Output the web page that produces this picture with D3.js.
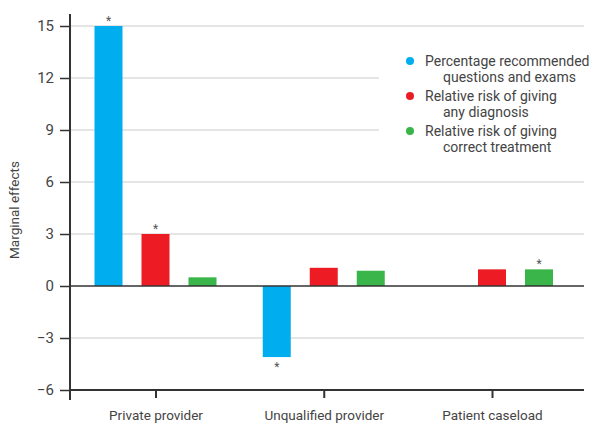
<!DOCTYPE html>
<html><head><meta charset="utf-8">
<script src="https://cdn.jsdelivr.net/npm/d3@7"></script>
<style>
body{margin:0;background:#fff;}
text{font-family:Roboto, "Open Sans", sans-serif;}
</style></head>
<body><svg id="c" width="601" height="436"></svg>
<script>
const categories = ["Private provider", "Unqualified provider", "Patient caseload"];
const seriesNames = ["Percentage recommended questions and exams", "Relative risk of giving any diagnosis", "Relative risk of giving correct treatment"];
const legendLines = [["Percentage recommended", "questions and exams"], ["Relative risk of giving", "any diagnosis"], ["Relative risk of giving", "correct treatment"]];
const seriesColors = ["#00aeef", "#ed1c24", "#39b54a"];
const pctRecommended = [15.0, -4.1, 0];
const rrDiagnosis = [3.0, 1.05, 0.96];
const rrTreatment = [0.5, 0.88, 0.96];
const significant = [[true, true, false], [true, false, false], [false, false, true]]; // per series, per category
const yTicks = [-6, -3, 0, 3, 6, 9, 12, 15];
const yLabel = "Marginal effects";

const svg = d3.select("#c");
const mLeft = 70, mRight = 584, mTop = 26, mBottom = 390;
const y = d3.scaleLinear().domain([-6, 15]).range([mBottom, mTop]);
const x0 = d3.scalePoint().domain(categories).range([155.5, 492]);
const x1 = d3.scaleBand().domain(d3.range(3)).range([-61, 61]).paddingInner(0.404).paddingOuter(0);
const values = [pctRecommended, rrDiagnosis, rrTreatment];
const legendLeft = 379;
const txt = "#444";

// grid
svg.append("g").selectAll("line").data(yTicks.filter(d => d !== 0 && d !== -6)).join("line")
  .attr("x1", mLeft).attr("x2", d => (d === 12 || d === 9) ? legendLeft : mRight)
  .attr("y1", d => y(d)).attr("y2", d => y(d))
  .attr("stroke", "#cccccc").attr("stroke-width", 1.2);

// bars
const data = [];
categories.forEach((c, ci) => values.forEach((arr, si) => data.push({c, ci, si, v: arr[ci]})));
svg.append("g").selectAll("rect").data(data.filter(d => d.v !== 0)).join("rect")
  .attr("x", d => x0(d.c) + x1(d.si))
  .attr("width", x1.bandwidth())
  .attr("y", d => y(Math.max(0, d.v)))
  .attr("height", d => Math.abs(y(d.v) - y(0)))
  .attr("fill", d => seriesColors[d.si]);

// asterisks
svg.append("g").selectAll("text").data(data.filter(d => significant[d.si][d.ci])).join("text")
  .attr("x", d => x0(d.c) + x1(d.si) + x1.bandwidth() / 2)
  .attr("y", d => d.v >= 0 ? y(d.v) - 1 : y(d.v) + 14)
  .attr("text-anchor", "middle").attr("font-size", 12).attr("fill", "#555")
  .text("*");

// zero line
svg.append("line").attr("x1", mLeft).attr("x2", mRight).attr("y1", y(0)).attr("y2", y(0))
  .attr("stroke", "#333").attr("stroke-width", 1.3);

// y axis
const yAxis = svg.append("g").attr("transform", `translate(${mLeft},0)`)
  .call(d3.axisLeft(y).tickValues(yTicks).tickSize(10).tickPadding(6).tickFormat(d => d < 0 ? "\u2212" + Math.abs(d) : d));
yAxis.select(".domain").remove();
yAxis.selectAll("line").attr("stroke", "#333").attr("stroke-width", 1.5);
yAxis.selectAll("text").attr("font-size", 15).attr("fill", txt).attr("font-family", "Roboto, sans-serif");
svg.append("line").attr("x1", mLeft).attr("x2", mLeft).attr("y1", 14).attr("y2", 400)
  .attr("stroke", "#333").attr("stroke-width", 2);

// x axis
const xAxis = svg.append("g").attr("transform", `translate(0,${mBottom})`)
  .call(d3.axisBottom(x0).tickSize(8).tickPadding(12));
xAxis.select(".domain").remove();
xAxis.selectAll("line").attr("stroke", "#333").attr("stroke-width", 2);
xAxis.selectAll("text").attr("font-size", 13.5).attr("fill", txt).attr("font-family", "Roboto, sans-serif");
svg.append("line").attr("x1", mLeft).attr("x2", mRight).attr("y1", mBottom).attr("y2", mBottom)
  .attr("stroke", "#333").attr("stroke-width", 2);

// y label
svg.append("text").attr("transform", `translate(19,${(mTop + mBottom) / 2 + 2}) rotate(-90)`)
  .attr("text-anchor", "middle").attr("font-size", 13.5).attr("fill", txt).text(yLabel);

// legend
const lg = svg.append("g").attr("transform", "translate(410,61)");
const items = lg.selectAll("g").data(seriesNames).join("g").attr("transform", (d, i) => `translate(0,${i * 35})`);
items.append("circle").attr("r", 4).attr("fill", (d, i) => seriesColors[i]);
items.append("text").attr("x", 15).attr("y", 5).attr("font-size", 14).attr("fill", txt).text((d, i) => legendLines[i][0]);
items.append("text").attr("x", 33).attr("y", 21).attr("font-size", 14).attr("fill", txt).text((d, i) => legendLines[i][1]);
</script></body></html>
